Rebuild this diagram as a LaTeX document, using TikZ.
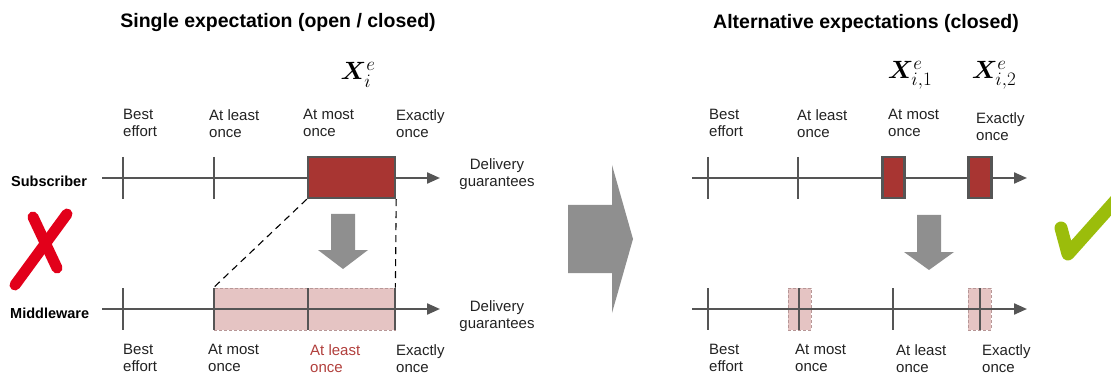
\RequirePackage{fix-cm}
\documentclass[tikz,border=0pt]{standalone}
\usepackage{fontspec}
\setmainfont{Liberation Sans}
\usepackage{amsmath}
\usepackage{bm}
\DeclareMathSizes{25}{25}{19}{15}
\usetikzlibrary{arrows.meta}
\definecolor{axisgray}{HTML}{555555}
\definecolor{boxred}{HTML}{A83532}
\definecolor{boxpink}{HTML}{E5C4C3}
\definecolor{pinkedge}{HTML}{B79696}
\definecolor{redtext}{HTML}{B13F3C}
\definecolor{arrowgray}{HTML}{8F8F8F}
\definecolor{xred}{HTML}{E2001A}
\definecolor{checkgreen}{HTML}{9BBD0B}
\definecolor{labeltext}{HTML}{222222}
\begin{document}
\begin{tikzpicture}[x=1pt,y=-1pt,
  axisline/.style={draw=axisgray, line width=2.2pt, -{Triangle[length=13pt,width=11pt]}},
  tickline/.style={draw=axisgray, line width=2pt},
  lbl/.style={font=\fontsize{15}{17}\selectfont, align=left, inner sep=0pt, anchor=north west, text=labeltext},
  dlv/.style={font=\fontsize{15}{17}\selectfont, align=center, inner sep=0pt, anchor=north, text=labeltext},
  rolelbl/.style={font=\fontsize{14.5}{17}\selectfont\bfseries, inner sep=0pt, anchor=base west},
  ttl/.style={font=\fontsize{19.5}{23}\selectfont\bfseries, inner sep=0pt},
  mathlbl/.style={font=\fontsize{25}{29}\selectfont, inner sep=0pt},
  strongbox/.style={fill=boxred, draw=axisgray, line width=2.4pt, inner sep=0pt},
  softbox/.style={fill=boxpink, draw=pinkedge, dash pattern=on 3pt off 2pt, line width=0.8pt, inner sep=0pt},
  dashline/.style={draw=black, line width=1.1pt, dash pattern=on 7pt off 5pt},
  grayarrow/.style={fill=arrowgray}
]
\useasboundingbox (0,0) rectangle (1111,374);

% ---------- Titles ----------
\node[ttl] (t1) at (278,23) {Single expectation (open / closed)};
\node[ttl] (t2) at (866,23) {Alternative expectations (closed)};

% ---------- Left panel: Subscriber ----------
\node[mathlbl] (xe) at (358,75) {$\bm{X}_i^e$};
\node[lbl] (l1) at (123,109) {Best\\effort};
\node[lbl] (l2) at (209,109) {At least\\once};
\node[lbl] (l3) at (303,109) {At most\\once};
\node[lbl] (l4) at (396,109) {Exactly\\once};

\coordinate (sa) at (102,178);
\coordinate (sb) at (440,178);
\draw[axisline] (sa) -- (sb);
\draw[tickline] (123,157) -- (123,199);
\draw[tickline] (214,157) -- (214,199);
\node[strongbox, minimum width=87pt, minimum height=41pt] (sbox) at (351.5,177.5) {};
\node[dlv] (d1) at (497,158) {Delivery\\guarantees};
\node[rolelbl] (sub) at (11,187) {Subscriber};

% ---------- Left panel: Middleware ----------
\node[softbox, minimum width=181pt, minimum height=42pt] (mbox) at (304.5,309) {};
\coordinate (ma) at (102,309);
\coordinate (mb) at (440,309);
\draw[axisline] (ma) -- (mb);
\draw[tickline] (123,288) -- (123,330);
\draw[tickline] (214,288) -- (214,330);
\draw[tickline] (308,288) -- (308,330);
\draw[tickline] (395,288) -- (395,330);
\node[dlv] (d2) at (497,300) {Delivery\\guarantees};
\node[rolelbl] (mid) at (10,318) {Middleware};

\node[lbl] (b1) at (123,344) {Best\\effort};
\node[lbl] (b2) at (208,344) {At most\\once};
\node[lbl, text=redtext] (b3) at (310,344) {At least\\once};
\node[lbl] (b4) at (396,344) {Exactly\\once};

\draw[dashline] (sbox.south west) -- (mbox.north west);
\draw[dashline] (sbox.south east) -- (mbox.north east);

\fill[grayarrow] (331,214) -- (355,214) -- (355,250) -- (368,250) -- (343,269) -- (318,250) -- (331,250) -- cycle;

% red cross
\draw[xred, line width=11pt, line cap=round] (33,217) -- (57,268);
\draw[xred, line width=11pt, line cap=round] (67,214) -- (15,285);

% ---------- Big arrow ----------
\fill[grayarrow] (568,205) -- (612,205) -- (612,165) -- (633,239) -- (612,313) -- (612,273) -- (568,273) -- cycle;

% ---------- Right panel: upper ----------
\node[mathlbl] (x1) at (910,75) {$\bm{X}_{i,1}^e$};
\node[mathlbl] (x2) at (994,75) {$\bm{X}_{i,2}^e$};
\node[lbl] (r1) at (709,109) {Best\\effort};
\node[lbl] (r2) at (797,109) {At least\\once};
\node[lbl] (r3) at (888,109) {At most\\once};
\node[lbl] (r4) at (976,112) {Exactly\\once};

\coordinate (ra) at (692,178);
\coordinate (rb) at (1027,178);
\draw[axisline] (ra) -- (rb);
\draw[tickline] (708,157) -- (708,199);
\draw[tickline] (798,157) -- (798,199);
\draw[tickline] (893.5,157) -- (893.5,198);
\draw[tickline] (980,157) -- (980,198);
\node[strongbox, minimum width=22pt, minimum height=41pt] (rbox1) at (893.5,177.5) {};
\node[strongbox, minimum width=23pt, minimum height=41pt] (rbox2) at (980,177.5) {};

% ---------- Right panel: lower ----------
\node[softbox, minimum width=23pt, minimum height=42pt] (rsoft1) at (799.5,309) {};
\node[softbox, minimum width=23pt, minimum height=42pt] (rsoft2) at (979.5,309) {};
\coordinate (rc) at (692,309);
\coordinate (rd) at (1027,309);
\draw[axisline] (rc) -- (rd);
\draw[tickline] (708,288) -- (708,330);
\draw[tickline] (799,288) -- (799,330);
\draw[tickline] (893,288) -- (893,330);
\draw[tickline] (979.5,288) -- (979.5,330);

\node[lbl] (q1) at (709,344) {Best\\effort};
\node[lbl] (q2) at (795,344) {At most\\once};
\node[lbl] (q3) at (896,344) {At least\\once};
\node[lbl] (q4) at (982,344) {Exactly\\once};

\fill[grayarrow] (917,215) -- (941,215) -- (941,252) -- (954,252) -- (929,270) -- (904,252) -- (917,252) -- cycle;

% green check
\draw[checkgreen, line width=13pt, line cap=round, line join=round] (1061,228) -- (1068,254) -- (1118,198);
\end{tikzpicture}
\end{document}
